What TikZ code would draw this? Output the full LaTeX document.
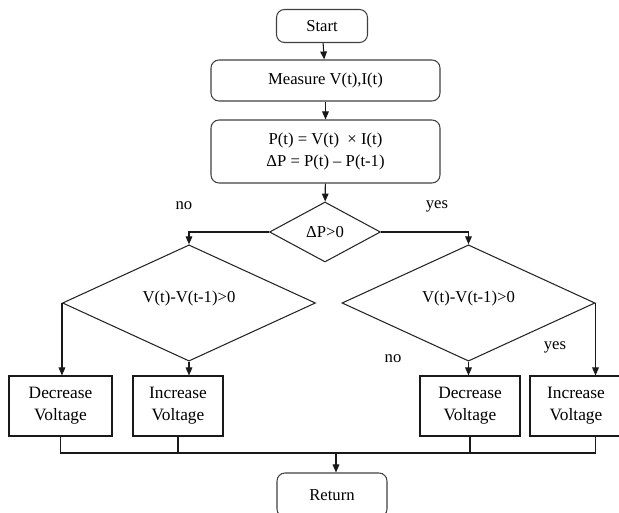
\documentclass[tikz,border=0pt]{standalone}
\usepackage{fontspec}
\setmainfont{Liberation Serif}
\usetikzlibrary{shapes.geometric,arrows.meta}

\begin{document}
\begin{tikzpicture}[x=0.75pt,y=-0.75pt,
    font=\fontsize{12.5}{16.5}\selectfont,
    every path/.style={line width=0.8pt},
    roundbox/.style={draw=black!75,rectangle,rounded corners=6pt,align=center,inner sep=2pt},
    plainbox/.style={draw=black!90,rectangle,align=center,inner sep=2pt,minimum height=45pt,
      font=\fontsize{13}{16.5}\selectfont},
    test/.style={draw=black!85,diamond,inner sep=0pt,align=center},
    flow/.style={draw=black!90,-{Triangle[length=6pt,width=5pt]}},
    link/.style={draw=black!90}]
  \useasboundingbox (0,0) rectangle (619,513);
  % main column
  \node[roundbox,minimum width=68.25pt,minimum height=24.75pt] (start) at (322,26) {Start};
  \node[roundbox,minimum width=171.75pt,minimum height=30.75pt] (measure) at (325.5,80.5) {Measure V(t),I(t)};
  \node[roundbox,minimum width=171.75pt,minimum height=47.25pt] (power) at (325.5,151.5)
    {P(t) = V(t)~ × I(t)\\ΔP = P(t) -- P(t-1)};
  \node[test,minimum width=83.25pt,minimum height=45pt] (dp) at (325,232) {ΔP>0};
  % the two voltage tests
  \node[test,minimum width=189.75pt,minimum height=73.5pt] (ld) at (189,303) {\raisebox{9pt}{V(t)-V(t-1)>0}};
  \node[test,minimum width=189.75pt,minimum height=73.5pt] (rd) at (468.5,303) {\raisebox{9pt}{V(t)-V(t-1)>0}};
  % actions
  \node[plainbox,minimum width=77.25pt] (decL) at (60.5,406) {Decrease\\Voltage};
  \node[plainbox,minimum width=67.5pt] (incL) at (178,406) {Increase\\Voltage};
  \node[plainbox,minimum width=75pt] (decR) at (470,406) {Decrease\\Voltage};
  \node[plainbox,minimum width=69pt] (incR) at (576,406) {Increase\\Voltage};
  \node[roundbox,minimum width=82.5pt,minimum height=33pt] (ret) at (332,495) {Return};
  % branch labels
  \node (noA) at (184,206) {no};
  \node (yesA) at (437,206) {yes};
  \node (noB) at (393,359) {no};
  \node (yesB) at (555,347) {yes};
  \coordinate (mrg) at (336,453);

  \draw[flow] (start) -- (measure);
  \draw[flow] (measure) -- (power);
  \draw[flow] (power) -- (dp);
  \draw[flow] (dp.west) -| (ld.north);
  \draw[flow] (dp.east) -| (rd.north);
  \draw[flow] (ld.west) -- (ld.west |- decL.north);
  \draw[flow] (ld.south) -- (ld.south |- incL.north);
  \draw[flow] (rd.south) -- (rd.south |- decR.north);
  \draw[flow] (rd.east) -- (rd.east |- incR.north);
  \draw[link] (decL.south) -- (decL.south |- mrg) -- (rd.east |- mrg);
  \draw[link] (incL.south) -- (incL.south |- mrg);
  \draw[link] (decR.south) -- (decR.south |- mrg);
  \draw[link] (rd.east |- incR.south) -- (rd.east |- mrg);
  \draw[flow] (mrg) -- (mrg |- ret.north);
\end{tikzpicture}
\end{document}
